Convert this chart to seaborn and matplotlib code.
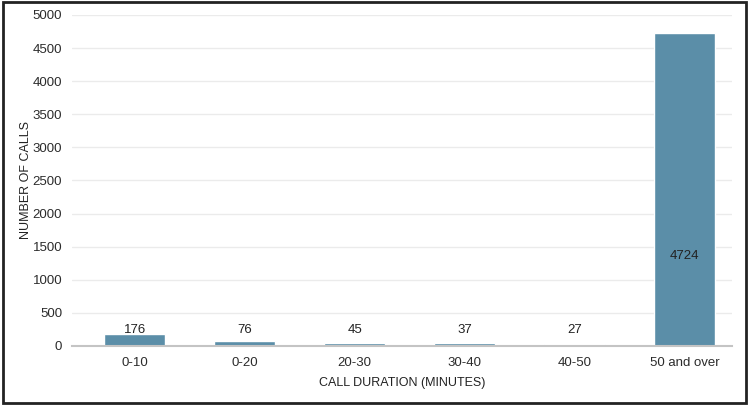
import matplotlib
matplotlib.use("Agg")
import matplotlib.pyplot as plt
import seaborn as sns
import pandas as pd
from matplotlib.patches import Rectangle

categories = ["0-10", "0-20", "20-30", "30-40", "40-50", "50 and over"]
calls = [176, 76, 45, 37, 27, 4724]

BAR = "#5b8ea8"

sns.set_style("white")
plt.rcParams["font.family"] = ["Liberation Sans", "DejaVu Sans"]

df = pd.DataFrame({"duration": categories, "calls": calls})

fig = plt.figure(figsize=(7.5, 4.05), dpi=100)
ax = fig.add_axes([0.096, 0.146, 0.880, 0.817])
sns.barplot(data=df, x="duration", y="calls", color=BAR, width=0.55,
            saturation=1, ax=ax)

ax.set_ylim(0, 5000)
ax.set_xlim(-0.57, 5.43)
ax.set_yticks(range(0, 5001, 500))
ax.yaxis.grid(True, color="#ebebeb", lw=1)
ax.set_axisbelow(True)
for s in ["top", "right", "left"]:
    ax.spines[s].set_visible(False)
ax.spines["bottom"].set_color("#c4c4c4")
ax.spines["bottom"].set_linewidth(1.5)
ax.tick_params(axis="both", length=0, labelsize=9.5, colors="#2b2b2b")
ax.tick_params(axis="x", pad=8)
ax.tick_params(axis="y", pad=7)

ax.set_xlabel("CALL DURATION (MINUTES)", fontsize=9, color="#222222", labelpad=6)
ax.set_ylabel("NUMBER OF CALLS", fontsize=9, color="#222222")
ax.yaxis.set_label_coords(-0.06, 0.5)

# value labels (short bars above top, tall bar inside lower part)
for i, v in enumerate(calls):
    if v > 1000:
        ax.text(i, 1360, str(v), ha="center", va="center", fontsize=9.5, color="#222222")
    else:
        ax.text(i, 240, str(v), ha="center", va="center", fontsize=9.5, color="#222222")

fig.patches.append(Rectangle((0.004, 0.006), 0.990, 0.988, transform=fig.transFigure,
                             fill=False, edgecolor="#222222", lw=2))

fig.savefig("out.png", dpi=100)
